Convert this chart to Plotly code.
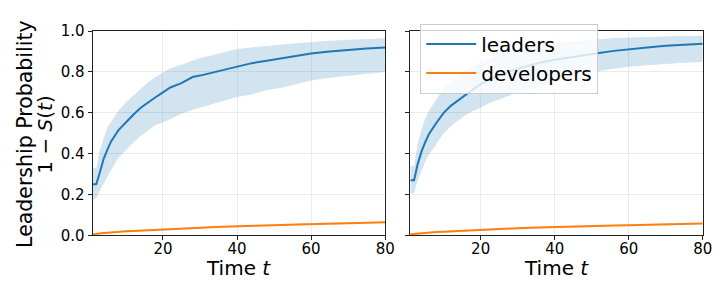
import plotly.graph_objects as go

t = [1, 2, 3, 4, 5, 6, 8, 10, 12, 14, 16, 18, 20, 22, 25, 28, 30, 33, 36, 40,
     44, 48, 52, 56, 60, 65, 70, 75, 80]

# Left panel: leaders
lead_l_mean = [0.25, 0.25, 0.31, 0.375, 0.42, 0.46, 0.515, 0.555, 0.59, 0.625, 0.652, 0.676,
               0.70, 0.724, 0.745, 0.775, 0.782, 0.795, 0.81, 0.828, 0.843, 0.855, 0.866,
               0.878, 0.89, 0.90, 0.908, 0.915, 0.92]
lead_l_hi = [0.327, 0.33, 0.42, 0.48, 0.53, 0.555, 0.61, 0.65, 0.685, 0.717, 0.75, 0.775,
             0.795, 0.818, 0.835, 0.855, 0.868, 0.88, 0.895, 0.912, 0.92, 0.928, 0.934,
             0.94, 0.947, 0.953, 0.958, 0.962, 0.965]
lead_l_lo = [0.174, 0.18, 0.22, 0.255, 0.29, 0.32, 0.38, 0.42, 0.455, 0.487, 0.515, 0.54,
             0.552, 0.57, 0.595, 0.615, 0.625, 0.64, 0.655, 0.677, 0.69, 0.71, 0.722,
             0.74, 0.758, 0.772, 0.782, 0.793, 0.80]
# Left panel: developers
dev_l_mean = [0.005, 0.008, 0.010, 0.012, 0.013, 0.015, 0.017, 0.020, 0.022, 0.024, 0.026,
              0.028, 0.030, 0.032, 0.034, 0.036, 0.038, 0.040, 0.042, 0.045, 0.047, 0.049,
              0.051, 0.053, 0.056, 0.058, 0.060, 0.062, 0.064]

# Right panel: leaders
lead_r_mean = [0.27, 0.27, 0.35, 0.41, 0.455, 0.495, 0.55, 0.60, 0.635, 0.663, 0.69, 0.715,
               0.74, 0.758, 0.785, 0.805, 0.815, 0.83, 0.845, 0.86, 0.872, 0.882, 0.893,
               0.903, 0.912, 0.92, 0.928, 0.934, 0.938]
lead_r_hi = [0.338, 0.34, 0.45, 0.52, 0.57, 0.61, 0.665, 0.72, 0.755, 0.785, 0.81, 0.83,
             0.85, 0.865, 0.885, 0.90, 0.91, 0.92, 0.93, 0.94, 0.948, 0.955, 0.962, 0.966,
             0.969, 0.972, 0.974, 0.976, 0.977]
lead_r_lo = [0.206, 0.206, 0.27, 0.315, 0.36, 0.395, 0.45, 0.50, 0.535, 0.562, 0.59, 0.61,
             0.625, 0.645, 0.665, 0.688, 0.70, 0.715, 0.73, 0.75, 0.77, 0.785, 0.805, 0.815,
             0.825, 0.833, 0.84, 0.845, 0.848]
# Right panel: developers
dev_r_mean = [0.005, 0.007, 0.009, 0.011, 0.012, 0.014, 0.016, 0.018, 0.020, 0.022, 0.024,
              0.026, 0.028, 0.030, 0.032, 0.034, 0.035, 0.037, 0.038, 0.040, 0.042, 0.044,
              0.046, 0.048, 0.050, 0.052, 0.054, 0.056, 0.058]
dev_halfwidth = 0.004

x_ticks = [20, 40, 60, 80]
y_ticks = [0.0, 0.2, 0.4, 0.6, 0.8, 1.0]

BLUE = "#1f77b4"
ORANGE = "#ff7f0e"
BLUE_FILL = "rgba(31,119,180,0.2)"
ORANGE_FILL = "rgba(255,127,14,0.2)"

fig = go.Figure()


def add_panel(xa, ya, lmean, lhi, llo, dmean, legend):
    fig.add_trace(go.Scatter(x=t, y=llo, mode="lines", line=dict(width=0), hoverinfo="skip",
                             showlegend=False, xaxis=xa, yaxis=ya))
    fig.add_trace(go.Scatter(x=t, y=lhi, mode="lines", line=dict(width=0), fill="tonexty",
                             fillcolor=BLUE_FILL, showlegend=False, xaxis=xa, yaxis=ya))
    fig.add_trace(go.Scatter(x=t, y=lmean, mode="lines", line=dict(color=BLUE, width=2),
                             name="leaders", showlegend=legend, legendrank=1,
                             xaxis=xa, yaxis=ya))
    dlo = [v - dev_halfwidth for v in dmean]
    dhi = [v + dev_halfwidth for v in dmean]
    fig.add_trace(go.Scatter(x=t, y=dlo, mode="lines", line=dict(width=0), showlegend=False,
                             xaxis=xa, yaxis=ya))
    fig.add_trace(go.Scatter(x=t, y=dhi, mode="lines", line=dict(width=0), fill="tonexty",
                             fillcolor=ORANGE_FILL, showlegend=False, xaxis=xa, yaxis=ya))
    fig.add_trace(go.Scatter(x=t, y=dmean, mode="lines", line=dict(color=ORANGE, width=2),
                             name="developers", showlegend=legend, legendrank=2,
                             xaxis=xa, yaxis=ya))


add_panel("x", "y", lead_l_mean, lead_l_hi, lead_l_lo, dev_l_mean, True)
add_panel("x2", "y2", lead_r_mean, lead_r_hi, lead_r_lo, dev_r_mean, False)

W, H = 722, 287
ax_common = dict(showline=True, mirror=True, linecolor="#222", linewidth=1,
                 ticks="outside", ticklen=4, tickcolor="#222", showgrid=True,
                 gridcolor="#ebebeb", gridwidth=1, zeroline=False,
                 tickfont=dict(family="DejaVu Sans", size=15, color="black"))

y0, y1 = 1 - 233 / H, 1 - 15 / H
fig.update_layout(
    width=W, height=H, margin=dict(l=0, r=0, t=0, b=0),
    paper_bgcolor="white", plot_bgcolor="white",
    font=dict(family="DejaVu Sans", color="black"),
    xaxis=dict(domain=[85.75 / W, 382.5 / W], range=[1, 80], tickvals=x_ticks,
               ticklabelstandoff=-4, **ax_common),
    yaxis=dict(domain=[y0, y1], range=[0, 1], tickvals=y_ticks, tickformat=".1f", **ax_common),
    xaxis2=dict(domain=[408 / W, 704.5 / W], range=[1, 80], tickvals=x_ticks, anchor="y2",
                ticklabelstandoff=-4, **ax_common),
    yaxis2=dict(domain=[y0, y1], range=[0, 1], tickvals=y_ticks, showticklabels=False,
                anchor="x2", **ax_common),
    legend=dict(x=418 / W, y=1 - 7 / H, xanchor="left", yanchor="top",
                traceorder="normal", itemwidth=50,
                bgcolor="rgba(255,255,255,0.8)", bordercolor="#cccccc", borderwidth=1,
                font=dict(family="DejaVu Sans", size=20, color="black")),
    showlegend=True,
)

ann_font = dict(family="DejaVu Sans", size=20, color="black")
fig.add_annotation(text="Time <i>t</i>", x=(85.75 + 382.5) / 2 / W, y=1 - 268 / H,
                   xref="paper", yref="paper", showarrow=False, font=ann_font,
                   xanchor="center", yanchor="middle")
fig.add_annotation(text="Time <i>t</i>", x=(408 + 704.5) / 2 / W, y=1 - 268 / H,
                   xref="paper", yref="paper", showarrow=False, font=ann_font,
                   xanchor="center", yanchor="middle")
fig.add_annotation(text="Leadership Probability", x=17 / W, y=1 - 125 / H,
                   xref="paper", yref="paper", showarrow=False,
                   font=dict(family="DejaVu Sans", size=20.5, color="black"),
                   textangle=-90, xanchor="center", yanchor="middle")
fig.add_annotation(text="1 − <i>S</i>(<i>t</i>)", x=38 / W, y=1 - 125 / H,
                   xref="paper", yref="paper", showarrow=False, font=ann_font,
                   textangle=-90, xanchor="center", yanchor="middle")

fig.write_html("out.html")
